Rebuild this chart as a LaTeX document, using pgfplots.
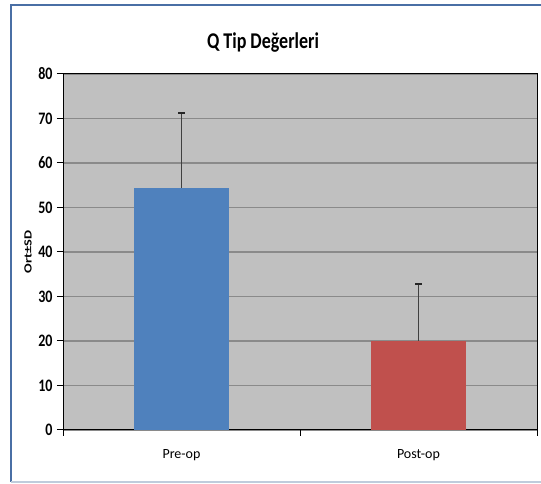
\documentclass[border=0pt]{standalone}
\usepackage{graphicx}
\usepackage{fontspec}
\setmainfont{Carlito}
\usepackage{pgfplots}
\pgfplotsset{compat=1.18}
\definecolor{plotbg}{HTML}{C0C0C0}
\definecolor{gridc}{HTML}{8A8A8A}
\definecolor{barblue}{HTML}{4F81BD}
\definecolor{barred}{HTML}{C0504D}
\definecolor{framec}{HTML}{4A6FA5}
\definecolor{framelight}{HTML}{BFCCDC}
\begin{document}
\begin{tikzpicture}[x=1pt,y=1pt]
\useasboundingbox (0,0) rectangle (541,484);
\fill[white] (0,0) rectangle (541,484);
\draw[framec, line width=1.8pt] (11,2) -- (11,479) -- (541,479);
\draw[framelight, line width=1.2pt] (11,2) -- (541,2);
\node[font=\bfseries\fontsize{18}{20}\selectfont] at (263,441) {\scalebox{1}[1.25]{Q Tip Değerleri}};
\begin{axis}[
  at={(63pt,54pt)}, anchor=south west,
  scale only axis, width=474pt, height=356pt,
  xmin=-0.5, xmax=1.5, ymin=0, ymax=80,
  axis background/.style={fill=plotbg},
  axis line style={black, line width=1pt},
  ytick={0,10,...,80}, ytick pos=left,
  xtick={0,1}, xticklabels={Pre-op,Post-op}, xtick pos=bottom,
  major x tick style={draw=none},
  extra x ticks={-0.5,0.5,1.5}, extra x tick labels={},
  extra x tick style={major x tick style={draw=black, line width=1pt}, grid=none},
  tick align=outside, major tick length=6pt,
  tick style={black, line width=1pt},
  ymajorgrids, grid style={gridc, line width=1.2pt},
  /pgf/number format/assume math mode=true,
  yticklabel={\scalebox{1}[1.25]{\pgfmathprintnumber{\tick}}},
  yticklabel style={font=\bfseries\fontsize{14}{14}\selectfont, xshift=-1pt},
  xticklabel style={font=\fontsize{14}{14}\selectfont, yshift=-10pt},
  ylabel={\scalebox{1.3}[1]{Ort±SD}},
  every axis y label/.style={at={(rel axis cs:0,0.5)}, xshift=-35pt, rotate=90, anchor=center, font=\bfseries\fontsize{11}{12}\selectfont},
  ybar, bar width=0.40,
  clip=false,
]
\addplot[fill=barblue, draw=none, bar shift=0pt,
  error bars/.cd, y dir=plus, y explicit, error mark=|,
  error bar style={color=black!75, line width=1.6pt},
  error mark options={color=black!85, line width=2pt, mark size=3.5pt}]
  coordinates {(0,54.4) +- (0,16.9)};
\addplot[fill=barred, draw=none, bar shift=0pt,
  error bars/.cd, y dir=plus, y explicit, error mark=|,
  error bar style={color=black!75, line width=1.6pt},
  error mark options={color=black!85, line width=2pt, mark size=3.5pt}]
  coordinates {(1,20.0) +- (0,12.9)};
\end{axis}
\end{tikzpicture}
\end{document}
